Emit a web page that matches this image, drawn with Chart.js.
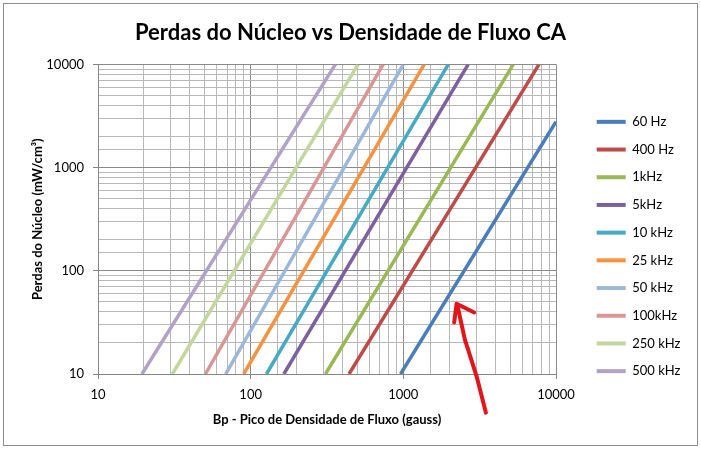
<!DOCTYPE html>
<html>
<head>
<meta charset="utf-8">
<script src="https://cdn.jsdelivr.net/npm/chart.js@4"></script>
<style>
html,body{margin:0;padding:0;background:#fff;}
#wrap{width:701px;height:449px;position:relative;}
</style>
</head>
<body>
<div id="wrap"><canvas id="c" width="701" height="449"></canvas></div>
<script>
// ---- data ----
const seriesNames = ['60 Hz','400 Hz','1kHz','5kHz','10 kHz','25 kHz','50 kHz','100kHz','250 kHz','500 kHz'];
const seriesColors = ['#4A7EBB','#BE4B48','#98B954','#7D60A0','#46AAC5','#F69240','#9BB7DC','#D99694','#C3D69B','#B3A2C7'];
// each series is a straight line on log-log axes: start point and end point
const startB = [959, 441, 309, 165, 127, 90, 68.6, 50.5, 30.7, 19.4];
const startP = [10, 10, 10, 10, 10, 10, 10, 10, 10, 10];
const endB   = [10000, 7740, 5250, 2660, 1970, 1370, 1000, 738, 505, 359];
const endP   = [2780, 10000, 10000, 10000, 10000, 10000, 10000, 10000, 10000, 10000];
const xTickValues = [10, 100, 1000, 10000];
const yTickValues = [10, 100, 1000, 10000];
// hand-drawn red arrow annotation, in data units
const arrowShaftB = [2277, 2531, 3020, 3475];
const arrowShaftP = [43.8, 21.5, 9.5, 4.22];
const arrowHeadB = [2153, 2233, 2913];
const arrowHeadP = [31.6, 48, 39.5];

const FONT = 'Lato, "Liberation Sans", sans-serif';

const datasets = seriesNames.map((n, i) => ({
  label: n,
  data: [{x: startB[i], y: startP[i]}, {x: endB[i], y: endP[i]}],
  borderColor: seriesColors[i],
  backgroundColor: seriesColors[i],
  borderWidth: 3.5,
  pointRadius: 0,
  pointHoverRadius: 0,
  tension: 0,
  fill: false
}));

const isMajor = v => xTickValues.includes(v) || yTickValues.includes(v);

const framePlugin = {
  id: 'frame',
  beforeDraw(chart) {
    const ctx = chart.ctx;
    ctx.save();
    ctx.fillStyle = '#fff';
    ctx.fillRect(0, 0, chart.width, chart.height);
    ctx.strokeStyle = '#8c8c8c';
    ctx.lineWidth = 1;
    ctx.strokeRect(3.5, 3.5, chart.width - 7, chart.height - 7);
    ctx.restore();
  },
  afterDraw(chart) {
    const ctx = chart.ctx, xs = chart.scales.x, ys = chart.scales.y;
    ctx.save();
    ctx.strokeStyle = '#e3151b';
    ctx.lineWidth = 4;
    ctx.lineCap = 'round';
    ctx.lineJoin = 'round';
    ctx.beginPath();
    arrowShaftB.forEach((b, i) => {
      const px = xs.getPixelForValue(b), py = ys.getPixelForValue(arrowShaftP[i]);
      if (i === 0) ctx.moveTo(px, py); else ctx.lineTo(px, py);
    });
    ctx.stroke();
    ctx.beginPath();
    arrowHeadB.forEach((b, i) => {
      const px = xs.getPixelForValue(b), py = ys.getPixelForValue(arrowHeadP[i]);
      if (i === 0) ctx.moveTo(px, py); else ctx.lineTo(px, py);
    });
    ctx.stroke();
    ctx.restore();
  }
};

const legendPlacer = {
  id: 'legendPlacer',
  beforeLayout(chart) {
    const lg = chart.legend;
    if (lg && !lg._wrappedFit) {
      const f = lg.fit.bind(lg);
      lg.fit = function () { f(); this.width = 145; };
      lg._wrappedFit = true;
    }
  },
  afterLayout(chart) {
    const lg = chart.legend;
    if (lg) {
      lg.left += 26; lg.right += 26;
      lg.top += 22; lg.bottom += 22;
    }
  }
};

new Chart(document.getElementById('c'), {
  type: 'line',
  data: { datasets },
  plugins: [framePlugin, legendPlacer],
  options: {
    responsive: false,
    animation: false,
    events: [],
    layout: { padding: 0 },
    plugins: {
      title: {
        display: true,
        text: 'Perdas do Núcleo vs Densidade de Fluxo CA',
        color: '#000',
        font: { family: FONT, size: 22, weight: 'bold' },
        padding: { top: 20, bottom: 18 }
      },
      legend: {
        position: 'right',
        labels: {
          color: '#000',
          font: { family: FONT, size: 13 },
          boxWidth: 29,
          boxHeight: 4,
          padding: 14.7,
          generateLabels(chart) {
            const items = Chart.defaults.plugins.legend.labels.generateLabels(chart);
            return items.map(it => Object.assign(it, { lineWidth: 0, fillStyle: it.strokeStyle }));
          }
        }
      },
      tooltip: { enabled: false }
    },
    scales: {
      x: {
        type: 'logarithmic',
        position: 'bottom',
        min: 10, max: 10000,
        afterFit(s) { s.height = 75; },
        border: { display: true, color: '#868686', width: 1 },
        grid: {
          color: c => isMajor(c.tick && c.tick.value) ? '#8a8a8a' : '#b8b8b8',
          tickColor: c => isMajor(c.tick && c.tick.value) ? '#868686' : 'rgba(0,0,0,0)',
          tickLength: 5,
          lineWidth: 1
        },
        ticks: {
          autoSkip: false,
          maxRotation: 0,
          color: '#000',
          padding: 8,
          font: { family: FONT, size: 13 },
          callback: v => xTickValues.includes(v) ? String(v) : ''
        },
        title: {
          display: true,
          text: 'Bp - Pico de Densidade de Fluxo (gauss)',
          color: '#000',
          font: { family: FONT, size: 13, weight: 'bold' },
          padding: { top: 4, bottom: 21 }
        }
      },
      y: {
        type: 'logarithmic',
        position: 'left',
        min: 10, max: 10000,
        afterFit(s) { s.width = 98; },
        border: { display: true, color: '#868686', width: 1 },
        grid: {
          color: c => isMajor(c.tick && c.tick.value) ? '#8a8a8a' : '#b8b8b8',
          tickColor: c => isMajor(c.tick && c.tick.value) ? '#868686' : 'rgba(0,0,0,0)',
          tickLength: 5,
          lineWidth: 1
        },
        ticks: {
          autoSkip: false,
          color: '#000',
          padding: 9,
          font: { family: FONT, size: 13 },
          callback: v => yTickValues.includes(v) ? String(v) : ''
        },
        title: {
          display: true,
          text: 'Perdas do Núcleo (mW/cm³)',
          color: '#000',
          font: { family: FONT, size: 13, weight: 'bold' },
          padding: { top: 30, bottom: 0 }
        }
      }
    }
  }
});
</script>
</body>
</html>
